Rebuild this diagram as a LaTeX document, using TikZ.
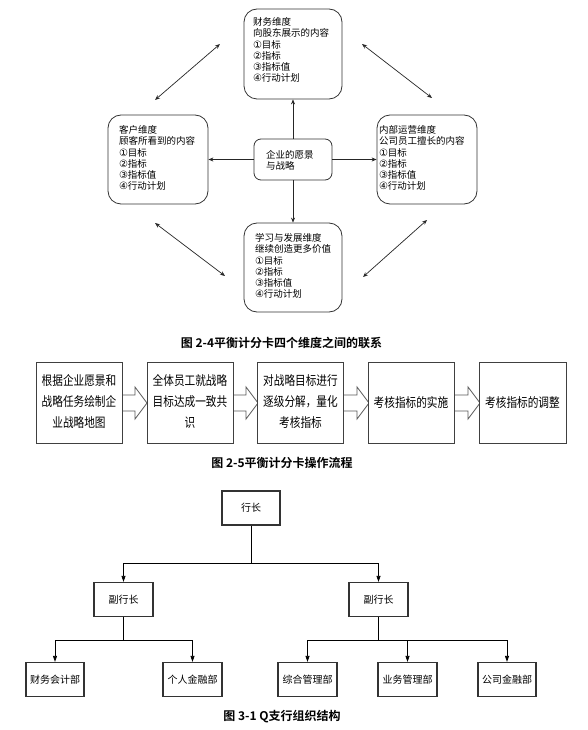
\documentclass[tikz,border=0pt]{standalone}
\usepackage{fontspec}
\setmainfont{Noto Sans CJK SC}[BoldFont={Noto Sans CJK SC Bold}]
\newfontfamily\djfont{DejaVu Sans}
\usetikzlibrary{arrows.meta}
\newcommand{\cnum}[1]{\makebox[8.6pt][l]{\djfont\fontsize{10}{11.2}\selectfont #1}}
\begin{document}
\begin{tikzpicture}[x=1pt,y=-1pt,
  rbox/.style={draw=black!80,line width=0.8pt,rounded corners=13pt,inner sep=0pt},
  cbox/.style={draw=black!80,line width=0.8pt,rounded corners=7pt,inner sep=0pt},
  dtext/.style={anchor=west,align=left,inner sep=0pt,font=\fontsize{9.5}{11.2}\selectfont},
  arr/.style={draw=black!85,line width=0.7pt,-{Stealth[length=5pt,width=4pt]}},
  darr/.style={draw=black!85,line width=0.7pt,{Stealth[length=5pt,width=4pt]}-{Stealth[length=5pt,width=4pt]}},
  fbox/.style={draw=black!75,line width=0.9pt,fill=white,minimum width=86pt,minimum height=81pt,inner sep=0pt,align=center,font=\fontsize{13}{21}\selectfont},
  barrow/.style={draw=black!65,line width=0.8pt,fill=white},
  obox/.style={draw=black!80,line width=1.2pt,minimum width=58pt,minimum height=34pt,inner sep=0pt,font=\fontsize{10}{12}\selectfont},
  oarr/.style={draw=black,line width=0.8pt,-{Triangle[length=6pt,width=4pt]}},
  oline/.style={draw=black,line width=0.8pt},
  capt/.style={font=\bfseries\fontsize{12}{14}\selectfont,inner sep=0pt}
]
\useasboundingbox (0,0) rectangle (587,730);
\fill[white] (0,0) rectangle (587,730);

% ---------- Figure 2-4 ----------
\node[rbox,minimum width=98pt,minimum height=90pt] (fin) at (293,54) {};
\node[rbox,minimum width=100pt,minimum height=89pt] (cus) at (158,159.5) {};
\node[rbox,minimum width=100pt,minimum height=89pt] (int) at (427,159.5) {};
\node[rbox,minimum width=98pt,minimum height=89pt] (lea) at (293,267.5) {};
\node[cbox,minimum width=78pt,minimum height=41pt] (ctr) at (293,159.5) {};

\node[dtext] (fint) at (253,50) {财务维度\\向股东展示的内容\\\cnum{①}目标\\\cnum{②}指标\\\cnum{③}指标值\\\cnum{④}行动计划};
\node[dtext] (cust) at (119,158) {客户维度\\顾客所看到的内容\\\cnum{①}目标\\\cnum{②}指标\\\cnum{③}指标值\\\cnum{④}行动计划};
\node[dtext] (intt) at (379,158) {内部运营维度\\公司员工擅长的内容\\\cnum{①}目标\\\cnum{②}指标\\\cnum{③}指标值\\\cnum{④}行动计划};
\node[dtext] (leat) at (255,266) {学习与发展维度\\继续创造更多价值\\\cnum{①}目标\\\cnum{②}指标\\\cnum{③}指标值\\\cnum{④}行动计划};
\node[dtext] (ctrt) at (266,160.5) {企业的愿景\\与战略};

\draw[arr] (ctr.north) -- (fin.south);
\draw[arr] (ctr.south) -- (lea.north);
\draw[arr] (ctr.west) -- (cus.east);
\draw[arr] (ctr.east) -- (int.west);

\coordinate (tl1) at (155,100); \coordinate (tl2) at (220,44);
\coordinate (tr1) at (362,44);  \coordinate (tr2) at (432,98);
\coordinate (bl1) at (155,223); \coordinate (bl2) at (225,276);
\coordinate (br1) at (427,220); \coordinate (br2) at (363,277);
\draw[darr] (tl1) -- (tl2);
\draw[darr] (tr1) -- (tr2);
\draw[darr] (bl1) -- (bl2);
\draw[darr] (br1) -- (br2);

\node[capt] (cap1) at (281.5,343) {图 2-4平衡计分卡四个维度之间的联系};

% ---------- Figure 2-5 ----------
\foreach \xa in {122,233,344,455}{
  \draw[barrow] (\xa,395) -- ++(13,0) -- ++(0,-8) -- ++(12,16) -- ++(-12,16) -- ++(0,-8) -- ++(-13,0);
}
\node[fbox] (f1) at (79,402.5) {\scalebox{0.82}[1]{\begin{tabular}{@{}c@{}}根据企业愿景和\\战略任务绘制企\\业战略地图\end{tabular}}};
\node[fbox] (f2) at (190,402.5) {\scalebox{0.82}[1]{\begin{tabular}{@{}c@{}}全体员工就战略\\目标达成一致共\\识\end{tabular}}};
\node[fbox] (f3) at (300.5,402.5) {\scalebox{0.82}[1]{\begin{tabular}{@{}c@{}}对战略目标进行\\逐级分解，量化\\考核指标\end{tabular}}};
\node[fbox] (f4) at (411,402.5) {\scalebox{0.82}[1]{考核指标的实施}};
\node[fbox,minimum width=87pt] (f5) at (522.5,402.5) {\scalebox{0.82}[1]{考核指标的调整}};

\node[capt] (cap2) at (282,463) {图 2-5平衡计分卡操作流程};

% ---------- Figure 3-1 ----------
\node[obox] (ceo) at (251,508) {行长};
\node[obox,minimum width=59pt] (vp1) at (123.5,599.5) {副行长};
\node[obox,minimum width=59pt] (vp2) at (378.5,599.5) {副行长};
\node[obox] (d1) at (55,679.5) {财务会计部};
\node[obox,minimum width=59pt] (d2) at (192.5,679.5) {个人金融部};
\node[obox,minimum width=59pt] (d3) at (307.5,679.5) {综合管理部};
\node[obox,minimum width=59pt] (d4) at (407.5,679.5) {业务管理部};
\node[obox] (d5) at (507,679.5) {公司金融部};

\coordinate (j1) at (251,563);
\coordinate (j2) at (123.5,640);
\coordinate (j3) at (378.5,640);
\draw[oline] (ceo.south) -- (j1);
\draw[oarr] (j1) -| (vp1.north);
\draw[oarr] (j1) -| (vp2.north);
\draw[oline] (vp1.south) -- (j2);
\draw[oarr] (j2) -| (d1.north);
\draw[oarr] (j2) -| (d2.north);
\draw[oline] (vp2.south) -- (j3);
\draw[oarr] (j3) -| (d3.north);
\draw[oarr] (j3) -| (d4.north);
\draw[oarr] (j3) -| (d5.north);

\node[capt] (cap3) at (282,717) {图 3-1 Q支行组织结构};
\end{tikzpicture}
\end{document}
